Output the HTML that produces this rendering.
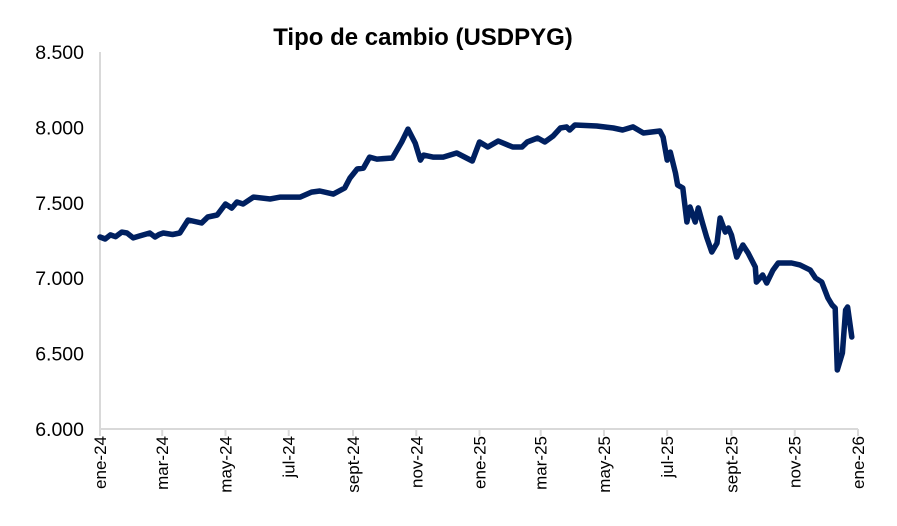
<!DOCTYPE html>
<html><head><meta charset="utf-8"><style>
body{margin:0;background:#fff;font-family:"Liberation Sans",Arial,sans-serif}
svg{display:block}
</style></head><body>
<svg id="chart" width="897" height="526">
<text x="423" y="45" text-anchor="middle" font-size="24" font-weight="bold">Tipo de cambio (USDPYG)</text>
<g id="axes"></g>
<path id="line" fill="none" stroke="#002060" stroke-width="5.5" stroke-linejoin="round" stroke-linecap="round"></path>
</svg>
<script>
const days=[0,5,10,15,21,26,32,38,48,53,57,61,70,77,85,98,104,113,121,127,132,138,148,164,174,193,204,212,225,236,241,248,254,260,267,282,291,297,304,309,312,321,331,344,359,366,374,384,398,407,412,422,429,437,444,450,453,458,479,495,504,514,524,540,543,547,550,555,557,562,566,569,574,577,581,585,590,595,598,603,606,609,614,620,625,632,633,639,643,649,654,667,675,685,690,696,702,706,709,711,716,719,721,725];
const values=[7273,7260,7287,7275,7306,7300,7267,7280,7300,7273,7290,7300,7290,7300,7386,7366,7406,7419,7492,7465,7505,7492,7538,7525,7538,7538,7571,7578,7558,7598,7664,7724,7730,7803,7790,7797,7903,7989,7896,7783,7816,7803,7803,7830,7777,7903,7870,7910,7870,7870,7903,7930,7903,7943,7996,8003,7983,8016,8009,7996,7983,8003,7963,7976,7936,7783,7836,7697,7618,7598,7373,7472,7373,7466,7366,7273,7174,7233,7399,7306,7333,7286,7140,7220,7167,7074,6974,7021,6968,7054,7101,7101,7088,7054,7001,6975,6869,6822,6802,6391,6504,6789,6809,6610];
const yTicks=[6000,6500,7000,7500,8000,8500];
const yTickLabels=["6.000","6.500","7.000","7.500","8.000","8.500"];
const xTickDays=[0,60,121,182,244,305,366,425,486,547,609,670,731];
const xTickLabels=["ene-24","mar-24","may-24","jul-24","sept-24","nov-24","ene-25","mar-25","may-25","jul-25","sept-25","nov-25","ene-26"];
const X0=100,X1=858,Y0=429,Y1=52;
function xs(d){return X0+d*(X1-X0)/731;}
function ys(v){return Y0-(v-6000)*(Y0-Y1)/2500;}
const NS="http://www.w3.org/2000/svg";
const ax=document.getElementById('axes');
function mk(t,a){const e=document.createElementNS(NS,t);for(const k in a)e.setAttribute(k,a[k]);ax.appendChild(e);return e;}
let e=mk('line',{x1:X0,y1:Y1,x2:X0,y2:Y0,stroke:'#d9d9d9','stroke-width':2});


e=mk('line',{x1:X0,y1:Y0,x2:X1,y2:Y0,stroke:'#d9d9d9','stroke-width':2});


yTicks.forEach((v,i)=>{
 const t=mk('text',{x:84,y:ys(v)+7,'text-anchor':'end','font-size':19.5});
 t.textContent=yTickLabels[i];
 
 
});
xTickDays.forEach((d,i)=>{
 const x=xs(d);
 const tk=mk('line',{x1:x,y1:Y0,x2:x,y2:Y0+7,stroke:'#d9d9d9','stroke-width':2});
 
 
 const t=mk('text',{x:0,y:0,'text-anchor':'end','font-size':17,transform:`translate(${x+6},${Y0+7}) rotate(-90)`});
 t.textContent=xTickLabels[i];
 
 
});
document.getElementById('line').setAttribute('d',days.map((d,i)=>(i?'L':'M')+xs(d).toFixed(1)+','+ys(values[i]).toFixed(1)).join(''));
</script>
</body></html>
